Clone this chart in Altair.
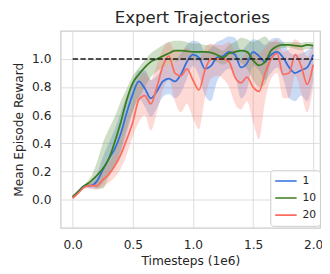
import altair as alt
import pandas as pd

# Timesteps (1e6)
timesteps = [0.00, 0.05, 0.10, 0.15, 0.20, 0.25, 0.30, 0.35, 0.40, 0.45,
             0.50, 0.55, 0.60, 0.65, 0.70, 0.75, 0.80, 0.85, 0.90, 0.95,
             1.00, 1.05, 1.10, 1.15, 1.20, 1.25, 1.30, 1.35, 1.40, 1.45,
             1.50, 1.55, 1.60, 1.65, 1.70, 1.75, 1.80, 1.85, 1.90, 1.95, 2.00]

series_names = ["1", "10", "20"]
series_colors = ["#3170dc", "#3a7d1f", "#fc6d5e"]

# series "1"
mean_1 = [0.02, 0.06, 0.10, 0.10, 0.13, 0.21, 0.29, 0.36, 0.47, 0.62,
          0.75, 0.84, 0.79, 0.72, 0.77, 0.84, 0.86, 0.84, 0.89, 0.98,
          1.03, 1.01, 0.93, 0.95, 1.01, 1.02, 1.05, 1.03, 0.94, 0.97,
          1.05, 1.02, 0.98, 1.03, 1.05, 1.01, 0.94, 0.90, 0.92, 0.94, 1.03]
lo_1 = [0.01, 0.05, 0.09, 0.08, 0.08, 0.12, 0.18, 0.24, 0.33, 0.47,
        0.62, 0.72, 0.66, 0.59, 0.65, 0.73, 0.75, 0.72, 0.76, 0.86,
        0.95, 0.88, 0.74, 0.70, 0.84, 0.90, 0.93, 0.88, 0.72, 0.78,
        0.95, 0.92, 0.85, 0.90, 0.94, 0.86, 0.72, 0.70, 0.74, 0.70, 0.85]
hi_1 = [0.03, 0.07, 0.11, 0.12, 0.18, 0.30, 0.40, 0.50, 0.62, 0.74,
        0.84, 0.92, 0.92, 0.85, 0.88, 0.94, 0.96, 0.98, 1.04, 1.10,
        1.13, 1.12, 1.05, 1.08, 1.12, 1.14, 1.16, 1.15, 1.06, 1.10,
        1.14, 1.13, 1.10, 1.14, 1.15, 1.12, 1.05, 1.03, 1.04, 1.06, 1.10]

# series "10"
mean_10 = [0.02, 0.06, 0.10, 0.13, 0.17, 0.22, 0.29, 0.41, 0.55, 0.71,
           0.83, 0.89, 0.94, 0.98, 1.00, 1.02, 1.04, 1.06, 1.06, 1.055,
           1.05, 1.05, 1.05, 1.045, 1.03, 1.01, 1.04, 1.05, 1.06, 1.05,
           0.99, 0.955, 0.98, 1.06, 1.09, 1.10, 1.10, 1.095, 1.09, 1.10, 1.095]
lo_10 = [0.01, 0.05, 0.09, 0.10, 0.08, 0.08, 0.16, 0.24, 0.35, 0.50,
         0.63, 0.72, 0.80, 0.87, 0.91, 0.94, 0.96, 0.98, 0.99, 0.99,
         0.99, 0.99, 0.99, 0.99, 0.98, 0.96, 0.98, 0.99, 0.97, 0.93,
         0.85, 0.80, 0.82, 0.99, 1.06, 1.08, 1.08, 1.07, 1.06, 1.07, 1.07]
hi_10 = [0.03, 0.07, 0.11, 0.16, 0.26, 0.40, 0.50, 0.59, 0.70, 0.79,
         0.88, 0.94, 0.99, 1.04, 1.07, 1.10, 1.12, 1.13, 1.13, 1.12,
         1.11, 1.11, 1.10, 1.10, 1.08, 1.06, 1.10, 1.12, 1.15, 1.14,
         1.12, 1.14, 1.16, 1.12, 1.12, 1.12, 1.12, 1.12, 1.115, 1.12, 1.12]

# series "20"
mean_20 = [0.01, 0.05, 0.09, 0.10, 0.10, 0.14, 0.18, 0.24, 0.32, 0.43,
           0.55, 0.71, 0.74, 0.68, 0.80, 0.95, 1.02, 0.90, 0.88, 0.93,
           0.85, 0.78, 0.92, 1.00, 1.00, 1.00, 0.98, 0.87, 0.83, 0.87,
           0.80, 0.77, 0.90, 1.00, 1.04, 0.89, 0.90, 1.03, 0.95, 0.82, 0.96]
lo_20 = [0.00, 0.04, 0.08, 0.08, 0.07, 0.09, 0.12, 0.16, 0.22, 0.32,
         0.45, 0.55, 0.60, 0.49, 0.62, 0.78, 0.85, 0.70, 0.62, 0.68,
         0.58, 0.50, 0.72, 0.86, 0.88, 0.86, 0.80, 0.68, 0.64, 0.70,
         0.55, 0.43, 0.70, 0.86, 0.90, 0.72, 0.72, 0.88, 0.76, 0.62, 0.80]
hi_20 = [0.02, 0.06, 0.10, 0.12, 0.14, 0.20, 0.26, 0.34, 0.45, 0.58,
         0.70, 0.86, 0.90, 0.85, 0.96, 1.07, 1.12, 1.06, 1.06, 1.08,
         1.05, 1.00, 1.08, 1.11, 1.10, 1.10, 1.12, 1.05, 1.00, 1.05,
         1.04, 1.04, 1.08, 1.12, 1.14, 1.05, 1.07, 1.14, 1.10, 1.02, 1.10]

expert_level = [1.0, 1.0]
expert_span = [0.0, 2.0]

x_ticks = [0.0, 0.5, 1.0, 1.5, 2.0]
y_ticks = [0.0, 0.2, 0.4, 0.6, 0.8, 1.0]

rows = []
for name, m, lo, hi in zip(series_names,
                           [mean_1, mean_10, mean_20],
                           [lo_1, lo_10, lo_20],
                           [hi_1, hi_10, hi_20]):
    for t, a, b, c in zip(timesteps, m, lo, hi):
        rows.append({"t": t, "series": name, "mean": a, "lo": b, "hi": c})
df = pd.DataFrame(rows)
ref_df = pd.DataFrame({"t": expert_span, "v": expert_level})

FONT = "DejaVu Sans"
TXT = "#262626"

x_scale = alt.Scale(domain=[-0.1, 2.057], nice=False, zero=False)
y_scale = alt.Scale(domain=[-0.2, 1.2], nice=False, zero=False)

x_enc = alt.X("t:Q", scale=x_scale,
              axis=alt.Axis(values=x_ticks, format=".1f", title="Timesteps (1e6)",
                            ticks=False, tickSize=0, labelPadding=11, titlePadding=4,
                            domain=False, grid=True))
y_axis = alt.Axis(values=y_ticks, format=".1f", title="Mean Episode Reward",
                  ticks=False, tickSize=0, labelPadding=10, titlePadding=6,
                  domain=False, grid=True)

bands = alt.Chart(df).mark_area(opacity=0.25, interpolate="monotone").encode(
    x=x_enc,
    y=alt.Y("lo:Q", scale=y_scale, axis=y_axis),
    y2="hi:Q",
    color=alt.Color("series:N", scale=alt.Scale(domain=series_names, range=series_colors),
                    sort=series_names, legend=None),
)

lines = alt.Chart(df).mark_line(strokeWidth=1.8, interpolate="monotone").encode(
    x=alt.X("t:Q", scale=x_scale),
    y=alt.Y("mean:Q", scale=y_scale),
    color=alt.Color("series:N", scale=alt.Scale(domain=series_names, range=series_colors),
                    sort=series_names,
                    legend=alt.Legend(title=None, orient="none", legendX=215, legendY=143,
                                      symbolType="stroke", symbolSize=484,
                                      symbolStrokeWidth=1.6, labelFontSize=11,
                                      labelFont=FONT, labelColor=TXT, labelOffset=5,
                                      clipHeight=14, rowPadding=3.5, padding=4,
                                      fillColor="rgba(255,255,255,0.85)",
                                      strokeColor="#cccccc", cornerRadius=3)),
)

dashed = alt.Chart(ref_df).mark_line(color="#1a1a1a", strokeWidth=1.4,
                                     strokeDash=[5.5, 2.4]).encode(
    x=alt.X("t:Q", scale=x_scale),
    y=alt.Y("v:Q", scale=y_scale),
)

chart = alt.layer(bands, lines, dashed).resolve_scale(color="independent").properties(
    width=266, height=202,
    autosize=alt.AutoSizeParams(type="none"),
    padding={"left": 54, "top": 20, "right": 2, "bottom": 44},
    title=alt.TitleParams("Expert Trajectories", fontSize=17, font=FONT, color=TXT,
                          fontWeight="normal", anchor="middle", offset=4, dx=2),
).configure(
    background="white"
).configure_view(
    stroke="#cccccc", strokeWidth=1.25
).configure_axis(
    labelFont=FONT, titleFont=FONT, labelFontSize=12.5, titleFontSize=12.5,
    labelColor=TXT, titleColor=TXT, titleFontWeight="normal",
    gridColor="#dcdcdc", gridWidth=1
)

chart.save("out.html", embed_options={"renderer": "svg", "actions": False})
